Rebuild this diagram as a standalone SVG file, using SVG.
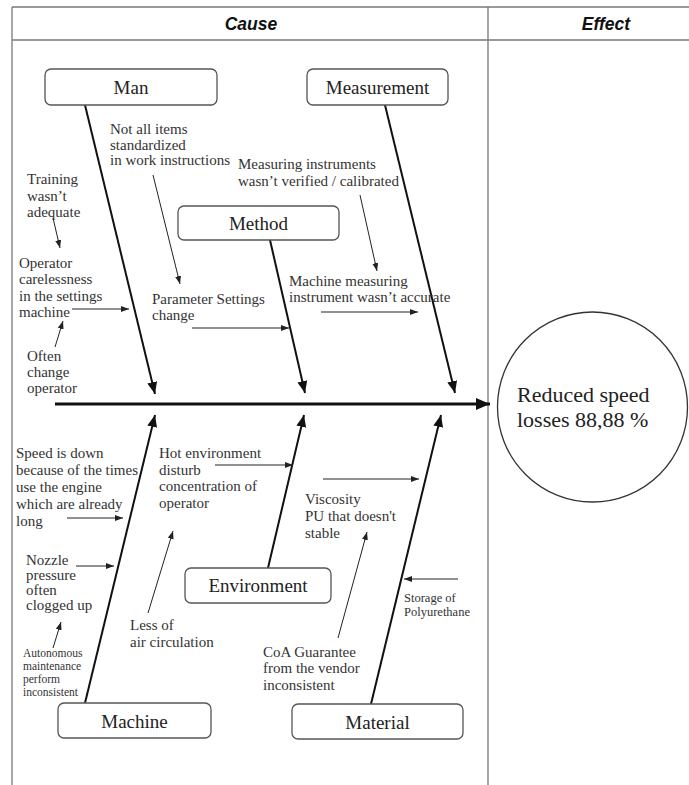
<svg xmlns="http://www.w3.org/2000/svg" width="689" height="785" viewBox="0 0 689 785">
<style>
.tbl{stroke:#777;stroke-width:1.3;fill:none}
.hdr{font-family:"Liberation Sans",Arial,sans-serif;font-weight:bold;font-style:italic;font-size:17.5px;fill:#111;text-anchor:middle}
.box{fill:#fff;stroke:#555;stroke-width:1.3}
.bt{font-family:"Liberation Serif","Times New Roman",serif;font-size:19px;fill:#222;text-anchor:middle}
.t{font-family:"Liberation Serif","Times New Roman",serif;font-size:15px;fill:#333}
.ts{font-family:"Liberation Serif","Times New Roman",serif;font-size:11.5px;fill:#333}
.tm{font-family:"Liberation Serif","Times New Roman",serif;font-size:12.5px;fill:#333}
.te{font-family:"Liberation Serif","Times New Roman",serif;font-size:22px;fill:#222}
.bone{stroke:#111;stroke-width:2;fill:none;marker-end:url(#big)}
.spine{stroke:#111;stroke-width:3;fill:none;marker-end:url(#spineHead)}
.sm{stroke:#222;stroke-width:1;fill:none;marker-end:url(#small)}
</style>
<defs>
<marker id="big" markerUnits="userSpaceOnUse" markerWidth="12" markerHeight="10" refX="12" refY="5" orient="auto">
<path d="M0,0 L12,5 L0,10 Z" fill="#111"/>
</marker>
<marker id="spineHead" markerUnits="userSpaceOnUse" markerWidth="14" markerHeight="12" refX="14" refY="6" orient="auto">
<path d="M0,0 L14,6 L0,12 Z" fill="#111"/>
</marker>
<marker id="small" markerUnits="userSpaceOnUse" markerWidth="8" markerHeight="6" refX="8" refY="3" orient="auto">
<path d="M0,0 L8,3 L0,6 Z" fill="#222"/>
</marker>
</defs>
<rect width="689" height="785" fill="#fff"/>
<g id="table">
<line class="tbl" x1="12" y1="7" x2="689" y2="7"/>
<line class="tbl" x1="12" y1="40" x2="689" y2="40"/>
<line class="tbl" x1="12" y1="7" x2="12" y2="785"/>
<line class="tbl" x1="488" y1="7" x2="488" y2="785"/>
<text class="hdr" x="251" y="30">Cause</text>
<text class="hdr" x="606" y="30">Effect</text>
</g>
<g id="connectors">
<line class="spine" x1="55" y1="404" x2="490" y2="404"/>
<line class="bone" x1="85" y1="105" x2="155" y2="394"/>
<line class="bone" x1="270" y1="240" x2="305" y2="393"/>
<line class="bone" x1="385" y1="105" x2="455" y2="393"/>
<line class="bone" x1="85" y1="703" x2="155" y2="415"/>
<line class="bone" x1="268" y1="568" x2="304" y2="415"/>
<line class="bone" x1="371" y1="704" x2="441" y2="415"/>
<line class="sm" x1="53" y1="218" x2="60" y2="248"/>
<line class="sm" x1="72" y1="309" x2="129" y2="309"/>
<line class="sm" x1="55" y1="347" x2="63" y2="321"/>
<line class="sm" x1="153" y1="175" x2="180" y2="284"/>
<line class="sm" x1="192" y1="328" x2="289" y2="328"/>
<line class="sm" x1="360" y1="195" x2="377" y2="271"/>
<line class="sm" x1="321" y1="312" x2="418" y2="312"/>
<line class="sm" x1="67" y1="518" x2="123" y2="518"/>
<line class="sm" x1="76" y1="566" x2="114" y2="566"/>
<line class="sm" x1="53" y1="648" x2="61" y2="622"/>
<line class="sm" x1="215" y1="465" x2="293" y2="465"/>
<line class="sm" x1="148" y1="613" x2="173" y2="531"/>
<line class="sm" x1="323" y1="479" x2="419" y2="479"/>
<line class="sm" x1="338" y1="638" x2="367" y2="532"/>
<line class="sm" x1="458" y1="579" x2="404" y2="579"/>
</g>
<g id="man"><rect class="box" x="45" y="69" width="172" height="36" rx="6"/><text class="bt" x="131" y="94">Man</text></g>
<g id="measurement"><rect class="box" x="307" y="69" width="141" height="36" rx="6"/><text class="bt" x="377.5" y="94">Measurement</text></g>
<g id="method"><rect class="box" x="178" y="206" width="161" height="34" rx="6"/><text class="bt" x="258.5" y="230">Method</text></g>
<g id="environment"><rect class="box" x="185" y="568" width="146" height="35" rx="6"/><text class="bt" x="258" y="592">Environment</text></g>
<g id="machine"><rect class="box" x="58" y="703" width="153" height="35" rx="6"/><text class="bt" x="134.5" y="728">Machine</text></g>
<g id="material"><rect class="box" x="292" y="704" width="171" height="35" rx="6"/><text class="bt" x="377.5" y="729">Material</text></g>
<g id="effect"><circle cx="592.5" cy="407" r="95" fill="#fff" stroke="#333" stroke-width="1.3"/>
<text class="te" x="517" y="402">Reduced speed</text><text class="te" x="517" y="427">losses 88,88 %</text></g>
<g id="cause-items">
<text class="t"><tspan x="110" y="134">Not all items</tspan><tspan x="110" y="150">standardized</tspan><tspan x="110" y="165">in work instructions</tspan></text>
<text class="t"><tspan x="238" y="169">Measuring instruments</tspan><tspan x="238" y="186">wasn’t verified / calibrated</tspan></text>
<text class="t"><tspan x="27" y="184">Training</tspan><tspan x="27" y="201">wasn’t</tspan><tspan x="27" y="217">adequate</tspan></text>
<text class="t"><tspan x="19" y="268">Operator</tspan><tspan x="19" y="284">carelessness</tspan><tspan x="19" y="301">in the settings</tspan><tspan x="19" y="317">machine</tspan></text>
<text class="t"><tspan x="27" y="361">Often</tspan><tspan x="27" y="377">change</tspan><tspan x="27" y="393">operator</tspan></text>
<text class="t"><tspan x="152" y="304">Parameter Settings</tspan><tspan x="152" y="320">change</tspan></text>
<text class="t"><tspan x="289" y="286">Machine measuring</tspan><tspan x="289" y="302">instrument wasn’t accurate</tspan></text>
<text class="t"><tspan x="16" y="458">Speed is down</tspan><tspan x="16" y="475">because of the times</tspan><tspan x="16" y="492">use the engine</tspan><tspan x="16" y="509">which are already</tspan><tspan x="16" y="526">long</tspan></text>
<text class="t"><tspan x="26" y="565">Nozzle</tspan><tspan x="26" y="580">pressure</tspan><tspan x="26" y="595">often</tspan><tspan x="26" y="610">clogged up</tspan></text>
<text class="ts"><tspan x="23" y="657">Autonomous</tspan><tspan x="23" y="670">maintenance</tspan><tspan x="23" y="683">perform</tspan><tspan x="23" y="696">inconsistent</tspan></text>
<text class="t"><tspan x="159" y="458">Hot environment</tspan><tspan x="159" y="475">disturb</tspan><tspan x="159" y="491">concentration of</tspan><tspan x="159" y="508">operator</tspan></text>
<text class="t"><tspan x="130" y="630">Less of</tspan><tspan x="130" y="647">air circulation</tspan></text>
<text class="t"><tspan x="305" y="504">Viscosity</tspan><tspan x="305" y="521">PU that doesn't</tspan><tspan x="305" y="538">stable</tspan></text>
<text class="t"><tspan x="263" y="657">CoA Guarantee</tspan><tspan x="263" y="673">from the vendor</tspan><tspan x="263" y="690">inconsistent</tspan></text>
<text class="tm"><tspan x="404" y="602">Storage of</tspan><tspan x="404" y="616">Polyurethane</tspan></text>
</g>
</svg>
